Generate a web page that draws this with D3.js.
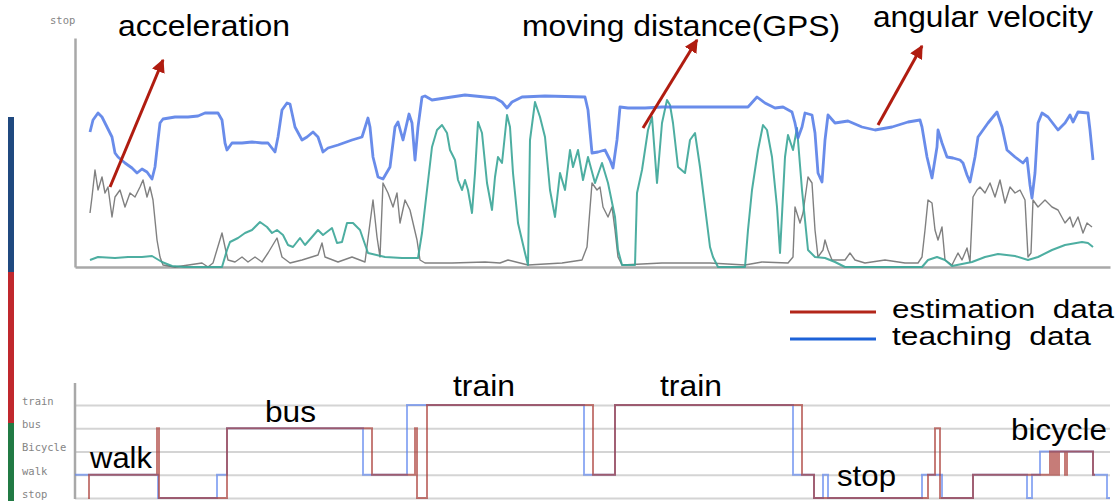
<!DOCTYPE html>
<html>
<head>
<meta charset="utf-8">
<script src="https://cdn.jsdelivr.net/npm/d3@7"></script>
<style>
  html, body { margin: 0; padding: 0; background: #fff; }
  svg { display: block; }
  .ann { font-family: "Liberation Sans", Arial, sans-serif; fill: #000; }
  .tiny { font-family: "DejaVu Sans Mono", monospace; font-size: 10.5px; fill: #858585; }
</style>
</head>
<body>
<svg id="chart" width="1118" height="501"></svg>
<script>
// ---------- DATA (time index) ----------
const angularVelocity = [
  [15,135],[18,147],[23,154],[27,150],[32,140],[37,130],[40,114],[43,110],[50,104],[57,99],[62,94],[67,98],[72,95],[77,88],[80,100],[83,127],[85,144],[88,148],[100,150],[113,150],[123,151],[130,154],[143,154],[147,147],[150,124],[152,117],[157,124],[167,124],[177,125],[187,124],[193,124],[200,115],[203,130],[207,157],[212,164],[215,163],[220,140],[227,127],[232,130],[238,135],[243,130],[248,115],[253,119],[263,122],[277,127],[287,130],[293,149],[295,140],[298,110],[303,90],[308,88],[315,100],[320,140],[323,145],[328,127],[334,153],[337,144],[340,107],[343,140],[347,170],[350,171],[357,167],[370,169],[390,172],[410,170],[420,169],[427,165],[432,159],[437,165],[447,170],[470,171],[510,170],[513,157],[517,114],[523,115],[530,117],[535,107],[538,99],[542,127],[545,160],[553,159],[570,159],[587,160],[607,160],[635,160],[673,160],[682,170],[690,164],[700,159],[708,160],[717,155],[720,144],[723,129],[727,140],[730,154],[737,152],[740,134],[743,94],[747,85],[750,127],[753,152],[760,144],[773,146],[787,140],[800,137],[817,140],[833,145],[845,147],[847,140],[852,110],[857,89],[862,120],[863,137],[867,124],[872,110],[878,109],[885,107],[888,104],[892,92],[895,85],[900,110],[903,130],[913,144],[922,155],[927,140],[932,117],[940,110],[948,104],[952,109],[955,82],[957,69],[960,94],[963,144],[967,154],[973,150],[983,137],[990,144],[995,152],[998,145],[1003,155],[1013,154],[1015,137],[1018,107]
];
const movingDistance = [
  [15,7],[23,10],[40,9],[53,10],[67,10],[77,11],[87,5],[97,1],[110,0],[147,0],[152,17],[155,25],[163,29],[170,34],[177,37],[185,45],[192,40],[197,34],[202,37],[208,32],[213,22],[218,20],[225,29],[230,22],[237,30],[243,37],[248,32],[257,39],[262,24],[267,25],[272,44],[278,44],[285,37],[293,14],[310,10],[327,9],[343,9],[347,34],[352,77],[357,120],[362,137],[367,142],[372,134],[375,117],[380,107],[383,87],[387,77],[390,87],[393,77],[397,54],[400,94],[403,145],[407,134],[412,84],[417,57],[420,90],[423,110],[427,104],[432,152],[435,140],[438,94],[443,44],[450,14],[453,2],[455,127],[460,165],[465,150],[470,130],[475,77],[480,50],[485,94],[490,77],[495,117],[498,100],[503,117],[508,87],[513,110],[520,84],[527,104],[533,84],[540,50],[543,17],[547,2],[560,2],[562,74],[567,97],[573,137],[577,150],[582,84],[587,144],[592,167],[595,162],[598,144],[603,100],[610,94],[615,127],[620,134],[625,100],[632,44],[635,20],[638,10],[643,0],[670,0],[673,37],[677,77],[683,117],[688,142],[692,137],[697,110],[702,60],[705,14],[710,110],[713,132],[718,117],[722,139],[727,77],[733,17],[740,10],[750,9],[760,5],[770,0],[847,0],[853,7],[862,10],[870,7],[877,1],[897,5],[910,10],[923,13],[940,11],[953,7],[963,10],[977,17],[990,22],[1007,25],[1013,24],[1018,20]
];
const acceleration = [
  [15,54],[17,70],[20,97],[23,77],[27,90],[30,74],[33,80],[37,50],[40,70],[45,77],[50,60],[55,74],[60,70],[65,80],[68,87],[72,70],[75,80],[78,67],[82,27],[85,10],[88,2],[100,0],[127,4],[133,0],[138,4],[147,34],[150,20],[153,7],[160,5],[167,10],[173,5],[180,10],[187,5],[193,14],[202,29],[207,10],[215,4],[227,7],[243,12],[247,24],[250,10],[263,5],[277,10],[290,5],[295,44],[298,67],[302,30],[305,10],[308,84],[313,74],[318,60],[322,74],[325,44],[330,67],[335,57],[342,27],[345,7],[350,4],[377,4],[410,5],[425,4],[433,7],[453,2],[487,4],[507,7],[512,20],[517,84],[522,77],[525,80],[528,60],[533,50],[537,60],[540,37],[543,10],[547,2],[587,4],[635,4],[670,2],[687,5],[713,4],[718,10],[720,60],[725,44],[728,54],[733,90],[737,84],[740,37],[743,10],[748,17],[750,27],[753,17],[757,7],[770,7],[775,14],[780,7],[790,4],[810,7],[830,4],[843,4],[847,10],[850,37],[853,67],[857,64],[860,37],[863,27],[867,40],[870,7],[877,2],[883,14],[887,7],[892,19],[895,5],[898,70],[902,77],[905,80],[910,74],[915,84],[920,70],[925,87],[930,64],[935,80],[940,74],[945,77],[950,67],[953,10],[956,14],[958,67],[963,60],[970,67],[977,60],[983,57],[990,44],[995,50],[998,40],[1003,50],[1008,34],[1012,44],[1017,40]
];
const modeLabels = ["stop", "walk", "Bicycle", "bus", "train"];
// step series: [time index, mode]
const teachingData = [
  [0,"walk"],[83,"stop"],[142,"walk"],[152,"bus"],[288,"walk"],[332,"train"],[509,"walk"],[540,"train"],[718,"walk"],[739,"stop"],[748,"walk"],[753,"stop"],[847,"walk"],[867,"stop"],[898,"walk"],[952,"stop"],[957,"walk"],[965,"Bicycle"],[1018,"walk"],[1032,"stop"],[1035,"stop"]
];
const estimationData = [
  [13,"stop"],[14,"walk"],[82,"bus"],[84,"stop"],[152,"bus"],[297,"walk"],[340,"bus"],[342,"stop"],[352,"train"],[518,"walk"],[540,"train"],[727,"walk"],[739,"stop"],[853,"walk"],[860,"bus"],[865,"stop"],[898,"walk"],[975,"Bicycle"],[977,"walk"],[978,"Bicycle"],[979,"walk"],[980,"Bicycle"],[981,"walk"],[982,"Bicycle"],[983,"walk"],[984,"Bicycle"],[990,"walk"],[992,"Bicycle"],[1018,"walk"],[1020,"walk"]
];
const annotations = [
  { text: "acceleration", x: 118, y: 36, w: 172, from: [110,187], to: [163,60] },
  { text: "moving distance(GPS)", x: 522, y: 36, w: 318, from: [643,128], to: [697,40] },
  { text: "angular velocity", x: 873, y: 27, w: 220, from: [878,125], to: [922,46] }
];
const modeTexts = [
  { text: "walk", x: 90, y: 468, w: 62 },
  { text: "bus", x: 265, y: 422, w: 51 },
  { text: "train", x: 453, y: 396, w: 62 },
  { text: "train", x: 660, y: 396, w: 62 },
  { text: "stop", x: 837, y: 486, w: 59 },
  { text: "bicycle", x: 1011, y: 440, w: 96 }
];
const legendItems = [
  { text: "estimation\u00a0\u00a0data", color: "#b3261a", y: 312, w: 222 },
  { text: "teaching\u00a0\u00a0data", color: "#1d62d8", y: 339, w: 199 }
];

// ---------- DRAW ----------
const svg = d3.select("#chart");
const x = d3.scaleLinear().domain([0, 1035]).range([75, 1110]);
const yTop = d3.scaleLinear().domain([0, 229]).range([267, 38]);
const yMode = d3.scalePoint().domain(modeLabels).range([498, 405]);

// left coloured bars
const bars = [["#20497f", 117, 272], ["#c0282d", 272, 423], ["#217a44", 423, 501]];
svg.selectAll("rect.side").data(bars).join("rect")
  .attr("x", 8).attr("width", 6)
  .attr("y", d => d[1]).attr("height", d => d[2] - d[1])
  .attr("fill", d => d[0]);

// top chart axes
const gY = svg.append("g").attr("transform", "translate(75,0)")
  .call(d3.axisLeft(yTop).ticks(0).tickSizeOuter(0));
const gX = svg.append("g").attr("transform", "translate(0,267)")
  .call(d3.axisBottom(x).ticks(0).tickSizeOuter(0));
[gY, gX].forEach(g => g.select(".domain").attr("stroke", "#a8a8a8").attr("stroke-width", 2.5));
svg.append("text").attr("class", "tiny").attr("x", 50).attr("y", 24).text("stop");

const line = d3.line().x(d => x(d[0])).y(d => yTop(d[1]));
svg.append("path").datum(acceleration).attr("d", line)
  .attr("fill", "none").attr("stroke", "#4a4a4a").attr("stroke-width", 1.4)
  .attr("stroke-opacity", 0.7).attr("stroke-linejoin", "round");
svg.append("path").datum(movingDistance).attr("d", line)
  .attr("fill", "none").attr("stroke", "#3aa597").attr("stroke-width", 2)
  .attr("stroke-opacity", 0.9).attr("stroke-linejoin", "round");
svg.append("path").datum(angularVelocity).attr("d", line)
  .attr("fill", "none").attr("stroke", "#4f78e6").attr("stroke-width", 2.8)
  .attr("stroke-opacity", 0.85).attr("stroke-linejoin", "round");

// bottom chart: gridlines + labels via axis
const gM = svg.append("g").attr("transform", "translate(75,0)")
  .call(d3.axisLeft(yMode).tickSize(-1035).tickPadding(0));
gM.select(".domain").remove();
gM.selectAll(".tick line").attr("stroke", "#d4d4d4").attr("stroke-width", 2.2);
gM.selectAll(".tick text").attr("class", "tiny").attr("x", -53).attr("dy", "-0.05em")
  .attr("text-anchor", "start").attr("font-size", null).attr("font-family", null).attr("fill", null);
gM.attr("font-size", null).attr("font-family", null);
svg.append("line").attr("x1", 75).attr("x2", 75).attr("y1", 383).attr("y2", 499)
  .attr("stroke", "#a8a8a8").attr("stroke-width", 2.5);

const step = d3.line().curve(d3.curveStepAfter).x(d => x(d[0])).y(d => yMode(d[1]));
svg.append("path").datum(teachingData).attr("d", step)
  .attr("fill", "none").attr("stroke", "#5a82ee").attr("stroke-width", 2).attr("stroke-opacity", 0.65);
svg.append("path").datum(estimationData).attr("d", step)
  .attr("fill", "none").attr("stroke", "#a8362f").attr("stroke-width", 2).attr("stroke-opacity", 0.65);

// arrows
const defs = svg.append("defs");
defs.append("marker").attr("id", "ah").attr("viewBox", "0 0 10 10")
  .attr("refX", 9).attr("refY", 5).attr("markerWidth", 4.5).attr("markerHeight", 4.5)
  .attr("orient", "auto")
  .append("path").attr("d", "M0,0 L10,5 L0,10 z").attr("fill", "#b01c10");

svg.selectAll("line.arrow").data(annotations).join("line")
  .attr("x1", d => d.from[0]).attr("y1", d => d.from[1])
  .attr("x2", d => d.to[0]).attr("y2", d => d.to[1])
  .attr("stroke", "#b01c10").attr("stroke-width", 3).attr("marker-end", "url(#ah)");

svg.selectAll("text.annT").data(annotations).join("text")
  .attr("class", "ann").attr("x", d => d.x).attr("y", d => d.y)
  .attr("font-size", 30).attr("textLength", d => d.w).attr("lengthAdjust", "spacingAndGlyphs")
  .text(d => d.text);

svg.selectAll("text.modeT").data(modeTexts).join("text")
  .attr("class", "ann").attr("x", d => d.x).attr("y", d => d.y)
  .attr("font-size", 30).attr("textLength", d => d.w).attr("lengthAdjust", "spacingAndGlyphs")
  .text(d => d.text);

// legend
const lg = svg.selectAll("g.leg").data(legendItems).join("g");
lg.append("line").attr("x1", 790).attr("x2", 876).attr("y1", d => d.y).attr("y2", d => d.y)
  .attr("stroke", d => d.color).attr("stroke-width", 3);
lg.append("text").attr("class", "ann").attr("x", 892).attr("y", d => d.y + 6)
  .attr("font-size", 25).attr("textLength", d => d.w).attr("lengthAdjust", "spacingAndGlyphs")
  .text(d => d.text);
</script>
</body>
</html>
